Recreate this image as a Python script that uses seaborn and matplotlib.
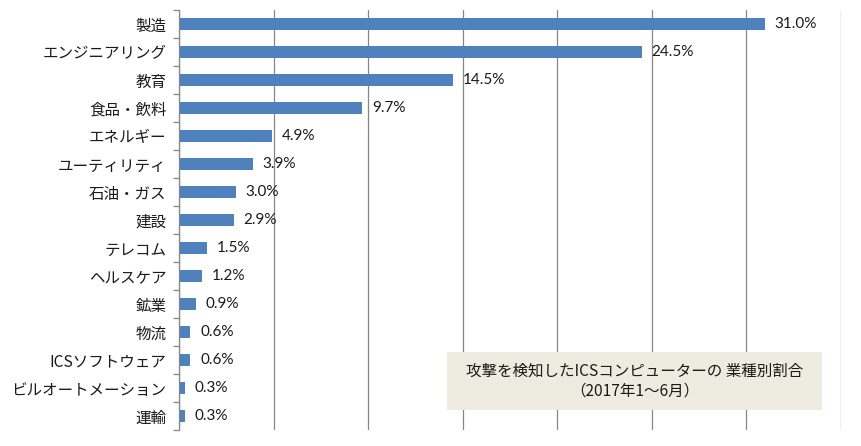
import matplotlib
matplotlib.use("Agg")
import matplotlib.pyplot as plt
import seaborn as sns
import pandas as pd
import numpy as np
from matplotlib.patches import Rectangle

categories = ["製造", "エンジニアリング", "教育", "食品・飲料", "エネルギー", "ユーティリティ",
              "石油・ガス", "建設", "テレコム", "ヘルスケア", "鉱業", "物流",
              "ICSソフトウェア", "ビルオートメーション", "運輸"]
values = [31.0, 24.5, 14.5, 9.7, 4.9, 3.9, 3.0, 2.9, 1.5, 1.2, 0.9, 0.6, 0.6, 0.3, 0.3]
value_labels = ["31.0%", "24.5%", "14.5%", "9.7%", "4.9%", "3.9%", "3.0%", "2.9%",
                "1.5%", "1.2%", "0.9%", "0.6%", "0.6%", "0.3%", "0.3%"]
title_text = "攻撃を検知したICSコンピューターの 業種別割合\n（2017年1～6月）"

sns.set_style("white")
plt.rcParams['font.family'] = ['Noto Sans CJK JP', 'DejaVu Sans']

df = pd.DataFrame({"cat": categories, "val": values})

fig = plt.figure(figsize=(8.61, 4.46), dpi=100)
ax = fig.add_axes([179/861, 1-430/446, (840.5-179)/861, (430-10)/446])

sns.barplot(data=df, y="cat", x="val", orient="h", color="#4F81BD",
            saturation=1, width=0.43, ax=ax, edgecolor="none")

ax.set_xlim(0, 35)
ax.set_ylim(len(categories)-0.5, -0.5)
ax.set_xticks(np.arange(0, 36, 5))
ax.set_xticklabels([])
ax.tick_params(axis="x", length=0)
ax.grid(axis="x", color="#868686", linewidth=0.9)
ax.grid(axis="y", visible=False)
ax.set_axisbelow(True)
for s in ["top", "right", "bottom"]:
    ax.spines[s].set_visible(False)
ax.spines["left"].set_color("#868686")
ax.spines["left"].set_linewidth(0.9)
ax.set_xlabel("")
ax.set_ylabel("")

ax.tick_params(axis="y", which="major", left=True, length=0, pad=9, labelsize=11.2, labelcolor="#1a1a1a")
ax.set_yticks(np.arange(-0.5, len(categories)), minor=True)
ax.tick_params(axis="y", which="minor", left=True, length=4, color="#868686", width=0.9, direction="out")

for i, (v, lab) in enumerate(zip(values, value_labels)):
    ax.annotate(lab, xy=(v, i), xytext=(7, 0), textcoords="offset points",
                va="center", ha="left", fontsize=11, color="#1a1a1a",
                family=['Lato', 'DejaVu Sans'])

rect = Rectangle((447/861, 1-410/446), (822-447)/861, (410-352)/446,
                 transform=fig.transFigure, facecolor="#EEECE1", edgecolor="none", zorder=5)
fig.patches.append(rect)
fig.text((447+822)/2/861, 1-381/446, title_text, ha="center", va="center",
         fontsize=11.2, color="#1a1a1a", linespacing=1.25, zorder=6)

fig.savefig("out.png", dpi=100)
